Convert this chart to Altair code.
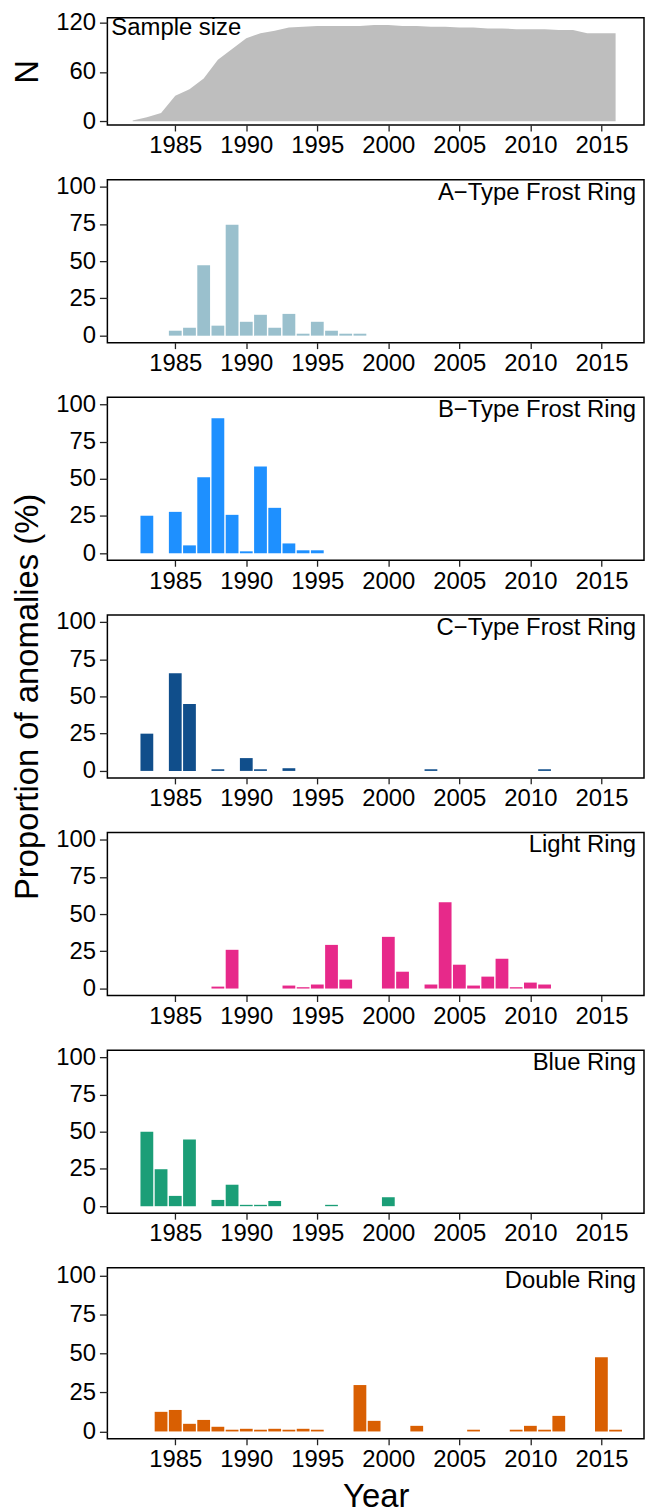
import altair as alt
import pandas as pd

FONT = "Liberation Sans"

# ---- data ----
n_years = list(range(1982, 2017))
n_values = [1, 5, 10, 31, 39, 52, 75, 88, 101, 107, 110, 114, 115, 116, 116, 116, 116,
            117, 117, 116, 116, 115, 115, 114, 114, 113, 113, 112, 112, 112, 111, 111,
            107, 107, 107]

a_years = [1985, 1986, 1987, 1988, 1989, 1990, 1991, 1992, 1993, 1994, 1995, 1996, 1997, 1998]
a_values = [3.3, 5.3, 47.2, 6.7, 74.5, 9.3, 14, 5.3, 14.6, 1.3, 9.3, 3.3, 1.3, 1.3]

b_years = [1983, 1985, 1986, 1987, 1988, 1989, 1990, 1991, 1992, 1993, 1994, 1995]
b_values = [25.2, 27.8, 5.3, 51, 90.7, 25.8, 1.3, 58.3, 30.5, 6.6, 2, 2]

c_years = [1983, 1985, 1986, 1988, 1990, 1991, 1993, 2003, 2011]
c_values = [25, 65.5, 44.9, 1.1, 8.6, 1.1, 1.8, 1.1, 1.1]

l_years = [1988, 1989, 1993, 1994, 1995, 1996, 1997, 2000, 2001, 2003, 2004, 2005,
           2006, 2007, 2008, 2009, 2010, 2011]
l_values = [1.3, 26, 2, 0.9, 2.7, 29.3, 6, 34.7, 11.3, 2.7, 58, 16, 2, 8, 20, 0.9, 4, 2.7]

bl_years = [1983, 1984, 1985, 1986, 1988, 1989, 1990, 1991, 1992, 1996, 2000]
bl_values = [49.9, 24.8, 6.9, 44.8, 4.2, 14.4, 0.9, 0.9, 3.5, 0.9, 6]

d_years = [1984, 1985, 1986, 1987, 1988, 1989, 1990, 1991, 1992, 1993, 1994, 1995,
           1998, 1999, 2002, 2006, 2009, 2010, 2011, 2012, 2015, 2016]
d_values = [12.6, 13.8, 4.9, 7.4, 3, 1.1, 1.7, 1.1, 1.7, 1.1, 1.7, 1.1,
            29.8, 6.8, 3.6, 1.1, 1.1, 3.6, 1.1, 10, 47.7, 1.1]

panel_labels = ["Sample size", "A\u2212Type Frost Ring", "B\u2212Type Frost Ring",
                "C\u2212Type Frost Ring", "Light Ring", "Blue Ring", "Double Ring"]
panel_colors = ["#BEBEBE", "#9AC0CD", "#1E90FF", "#104E8B", "#E7298A", "#1B9E77", "#D95F02"]

x_tick_values = [1985, 1990, 1995, 2000, 2005, 2010, 2015]
pct_tick_values = [0, 25, 50, 75, 100]
n_tick_values = [0, 60, 120]

X_DOMAIN = [1980.22, 2018.0]
W = 540
H = 164


def x_axis(title=None):
    return alt.Axis(values=x_tick_values, format="d", title=title, titlePadding=9)


def label_layer(text, right, ypos=20):
    df = pd.DataFrame({"label": [text]})
    return alt.Chart(df).mark_text(
        align="right" if right else "left", baseline="alphabetic",
        fontSize=24, font=FONT, color="black",
    ).encode(
        x=alt.value(W - 8 if right else 4),
        y=alt.value(ypos),
        text="label:N",
    )


# top panel: sample size
n_df = pd.DataFrame({"year": n_years, "n": n_values})
top_area = alt.Chart(n_df).mark_area(color=panel_colors[0]).encode(
    x=alt.X("year:Q", scale=alt.Scale(domain=X_DOMAIN, nice=False, zero=False), axis=x_axis()),
    y=alt.Y("n:Q", scale=alt.Scale(domain=[-4.5, 126], nice=False),
            axis=alt.Axis(values=n_tick_values, title="N", titlePadding=11)),
)
top = alt.layer(top_area, label_layer(panel_labels[0], right=False, ypos=17)).properties(
    width=W, height=108)


def bar_panel(years, values, idx, y_title=None, x_title=None, height=H, ydom=(-4.7, 104.7)):
    df = pd.DataFrame({"year": years, "v": values})
    bars = alt.Chart(df).mark_rect(color=panel_colors[idx]).transform_calculate(
        x0="datum.year - 0.45", x1="datum.year + 0.45"
    ).encode(
        x=alt.X("x0:Q", scale=alt.Scale(domain=X_DOMAIN, nice=False, zero=False), axis=x_axis(x_title)),
        x2="x1:Q",
        y=alt.Y("v:Q", scale=alt.Scale(domain=list(ydom), nice=False),
                axis=alt.Axis(values=pct_tick_values, title=y_title, titlePadding=11)),
        y2=alt.datum(0),
    )
    return alt.layer(bars, label_layer(panel_labels[idx], right=True)).properties(width=W, height=height)


pa = bar_panel(a_years, a_values, 1)
pb = bar_panel(b_years, b_values, 2)
pc = bar_panel(c_years, c_values, 3, y_title="Proportion of anomalies (%)")
pl = bar_panel(l_years, l_values, 4)
pbl = bar_panel(bl_years, bl_values, 5)
pd_ = bar_panel(d_years, d_values, 6, x_title="Year", height=172, ydom=(-4.7, 105.1))

chart = alt.vconcat(top, pa, pb, pc, pl, pbl, pd_, spacing=55, bounds="flush").properties(
    padding={"left": 3, "top": -3, "right": 0, "bottom": 0}
).configure(font=FONT).configure_view(
    stroke="black", strokeWidth=1.5
).configure_axis(
    domain=False, grid=False,
    labelFont=FONT, labelFontSize=24, labelColor="black",
    tickColor="#222", tickWidth=1.3,
    titleFont=FONT, titleFontSize=33, titleFontWeight="normal", titleColor="black",
).configure_axisX(
    tickSize=6, labelPadding=3
).configure_axisY(
    tickSize=8, labelPadding=4
)

chart.save("out.html", embed_options={"renderer": "svg", "actions": False})
